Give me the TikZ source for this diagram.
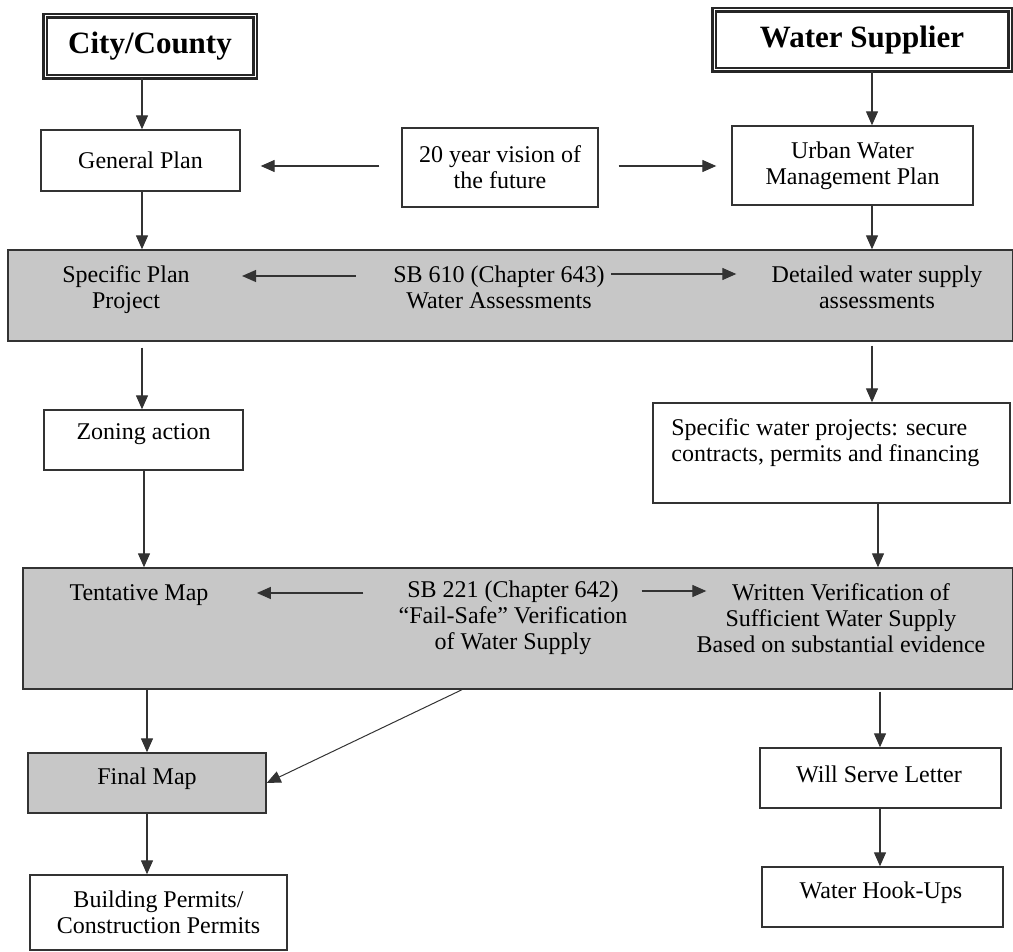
\documentclass[tikz,border=0pt]{standalone}
\usepackage{fontspec}
\setmainfont{Liberation Serif}
\usetikzlibrary{arrows.meta}
\newcommand{\fs}{\fontsize{12}{13}\selectfont}
\tikzset{
  box/.style={draw=black!80, line width=0.7pt, fill=white, inner sep=0pt, align=center, font=\fs},
  graybox/.style={box, fill=black!22},
  head/.style={draw=black!85, double=white, line width=1.35pt, double distance=0.5pt, fill=white, inner sep=0pt, font=\bfseries\fontsize{15.5}{18}\selectfont},
  band/.style={draw=black!80, line width=0.7pt, fill=black!22, inner sep=0pt},
  lbl/.style={inner sep=0pt, align=center, font=\fs},
  arr/.style={-{Triangle[length=7pt,width=6pt]}, draw=black!80, line width=0.65pt}
}
\begin{document}
\begin{tikzpicture}[x=0.5pt,y=-0.5pt]
\useasboundingbox (0,0) rectangle (1013,952);
% column coordinates
\coordinate (cL1) at (142,0);
\coordinate (cL2) at (144,0);
\coordinate (cL3) at (147,0);
\coordinate (cR1) at (872,0);
\coordinate (cR2) at (878,0);
\coordinate (cR3) at (880,0);
\coordinate (dg) at (462,0);
\coordinate (r1) at (0,276);
\coordinate (r2) at (0,274);
\coordinate (r3) at (0,593);
\coordinate (r4) at (0,591);
\coordinate (r5) at (0,166);

% headings
\node[head, minimum width=105pt, minimum height=30.5pt] (cc) at (150,46.5) {City/County};
\node[head, minimum width=148pt, minimum height=30pt] (ws) at (862,40) {Water Supplier};

% first row
\node[box, minimum width=99.5pt, minimum height=30.5pt] (gp) at (140.5,160.5) {General Plan};
\node[box, minimum width=98pt, minimum height=39.5pt] (tw) at (500,167.5) {20 year vision of\\the future};
\node[box, minimum width=120.5pt, minimum height=39.5pt] (uw) at (852.5,165.5) {Urban Water\\Management Plan};

% band 1
\node[band, minimum width=502.5pt, minimum height=45.5pt] (b1) at (510.5,295.5) {};
\node[lbl] (sp) at (126,290) {Specific Plan\\Project};
\node[lbl] (sb610) at (499,287) {SB 610 (Chapter 643)\\Water Assessments};
\node[lbl] (dw) at (877,287) {Detailed water supply\\assessments};

% middle row
\node[box, minimum width=99.5pt, minimum height=30pt] (zo) at (143.5,440) {};
\node[lbl] (zot) at (143.5,434) {Zoning action};
\node[box, minimum width=178.5pt, minimum height=50pt] (swp) at (831.5,453) {};
\node[lbl, align=left, anchor=west] (swpt) at (671,442.5) {Specific water projects: secure\\contracts, permits and financing};

% band 2
\node[band, minimum width=495pt, minimum height=60.5pt] (b2) at (518,628.5) {};
\node[lbl] (tm) at (139,595) {Tentative Map};
\node[lbl] (sb221) at (513,618) {SB 221 (Chapter 642)\\“Fail-Safe” Verification\\of Water Supply};
\node[lbl] (wv) at (841,618) {Written Verification of\\Sufficient Water Supply\\Based on substantial evidence};

% bottom rows
\node[graybox, minimum width=119pt, minimum height=30pt] (fm) at (147,783) {};
\node[lbl] (fmt) at (147,779) {Final Map};
\node[box, minimum width=128.5pt, minimum height=37.5pt] (bp) at (158.5,912.5) {Building Permits/\\Construction Permits};
\node[box, minimum width=120.5pt, minimum height=30pt] (wsl) at (880.5,778) {};
\node[lbl] (wslt) at (879,774) {Will Serve Letter};
\node[box, minimum width=120.5pt, minimum height=30pt] (wh) at (882.5,897) {};
\node[lbl] (wht) at (881,893) {Water Hook-Ups};

% vertical connectors, left column
\draw[arr] (cc.south -| cL1) -- (gp.north -| cL1);
\draw[arr] (gp.south -| cL1) -- (b1.north -| cL1);
\draw[arr, shorten <=3pt] (b1.south -| cL1) -- (zo.north -| cL1);
\draw[arr] (zo.south -| cL2) -- (b2.north -| cL2);
\draw[arr] (b2.south -| cL3) -- (fm.north -| cL3);
\draw[arr] (fm.south -| cL3) -- (bp.north -| cL3);
% vertical connectors, right column
\draw[arr] (ws.south -| cR1) -- (uw.north -| cR1);
\draw[arr] (uw.south -| cR1) -- (b1.north -| cR1);
\draw[arr, shorten <=2pt] (b1.south -| cR1) -- (swp.north -| cR1);
\draw[arr] (swp.south -| cR2) -- (b2.north -| cR2);
\draw[arr, shorten <=1pt] (b2.south -| cR3) -- (wsl.north -| cR3);
\draw[arr] (wsl.south -| cR3) -- (wh.north -| cR3);

% horizontal connectors
\draw[arr, shorten <=11pt, shorten >=10pt] (tw.west |- r5) -- (gp.east |- r5);
\draw[arr, shorten <=10pt, shorten >=7.5pt] (tw.east |- r5) -- (uw.west |- r5);
\draw[arr, shorten <=18.5pt, shorten >=26pt] (sb610.west |- r1) -- (sp.east |- r1);
\draw[arr, shorten <=3pt, shorten >=17.5pt] (sb610.east |- r2) -- (dw.west |- r2);
\draw[arr, shorten <=17.5pt, shorten >=24pt] (sb221.west |- r3) -- (tm.east |- r3);
\draw[arr, shorten <=7pt, shorten >=-5pt] (sb221.east |- r4) -- (wv.west |- r4);

% diagonal connector
\draw[arr, line width=0.5pt] (b2.south -| dg) -- (fm.east);
\end{tikzpicture}
\end{document}
